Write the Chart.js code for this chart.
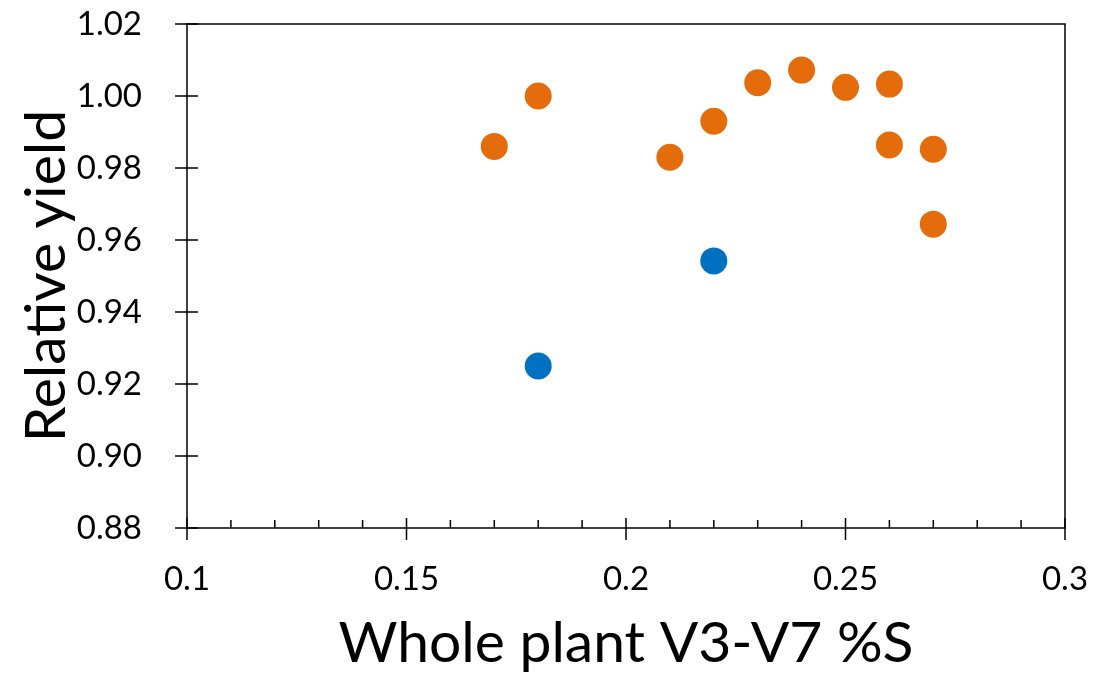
<!DOCTYPE html>
<html>
<head>
<meta charset="utf-8">
<script src="https://cdn.jsdelivr.net/npm/chart.js@4/dist/chart.umd.min.js"></script>
<style>
  html, body { margin: 0; padding: 0; background: #fff; }
  #wrap { width: 1094px; height: 678px; }
</style>
</head>
<body>
<div id="wrap"><canvas id="yieldChart"></canvas></div>
<script>
// data
const orangeX = [0.17, 0.18, 0.21, 0.22, 0.23, 0.24, 0.25, 0.26, 0.26, 0.27, 0.27];
const orangeY = [0.986, 1.000, 0.983, 0.993, 1.0037, 1.0072, 1.0024, 1.0033, 0.9864, 0.9852, 0.9644];
const blueX = [0.18, 0.22];
const blueY = [0.925, 0.9542];

const xTicks = [0.1, 0.15, 0.2, 0.25, 0.3];
const xMinorTicks = [0.11, 0.12, 0.13, 0.14, 0.16, 0.17, 0.18, 0.19, 0.21, 0.22, 0.23, 0.24, 0.26, 0.27, 0.28, 0.29];
const yTicks = [0.88, 0.90, 0.92, 0.94, 0.96, 0.98, 1.00, 1.02];

const xTitle = 'Whole plant V3-V7 %S';
const yTitle = 'Relative yield';

const FONT = "Lato, 'Open Sans', sans-serif";

function toPoints(xs, ys) {
  return xs.map((x, i) => ({ x: x, y: ys[i] }));
}

// axis lines, box and tick marks (major ticks cross, minor ticks inside)
const axisPlugin = {
  id: 'axisPlugin',
  afterDraw(chart) {
    const ctx = chart.ctx;
    const area = chart.chartArea;
    const xs = chart.scales.x, ys = chart.scales.y;
    ctx.save();
    ctx.strokeStyle = '#000';
    ctx.lineWidth = 1.5;
    ctx.beginPath();
    ctx.rect(area.left, area.top, area.right - area.left, area.bottom - area.top);
    ctx.stroke();
    ctx.beginPath();
    xTicks.forEach(v => {
      const px = xs.getPixelForValue(v);
      ctx.moveTo(px, area.bottom - 10);
      ctx.lineTo(px, area.bottom + 12);
    });
    xMinorTicks.forEach(v => {
      const px = xs.getPixelForValue(v);
      ctx.moveTo(px, area.bottom - 8);
      ctx.lineTo(px, area.bottom);
    });
    yTicks.forEach(v => {
      const py = ys.getPixelForValue(v);
      ctx.moveTo(area.left - 12, py);
      ctx.lineTo(area.left + 11, py);
    });
    ctx.stroke();
    ctx.restore();
  }
};

const ctx = document.getElementById('yieldChart').getContext('2d');
const myChart = new Chart(ctx, {
  type: 'scatter',
  data: {
    datasets: [
      {
        label: 'orange',
        data: toPoints(orangeX, orangeY),
        backgroundColor: '#E46C0A',
        borderWidth: 0,
        pointRadius: 13.5,
        pointHoverRadius: 13.5
      },
      {
        label: 'blue',
        data: toPoints(blueX, blueY),
        backgroundColor: '#0070C0',
        borderWidth: 0,
        pointRadius: 13.5,
        pointHoverRadius: 13.5
      }
    ]
  },
  options: {
    responsive: true,
    maintainAspectRatio: false,
    animation: false,
    layout: { padding: { top: 24, right: 29, left: 0, bottom: 0 } },
    plugins: {
      legend: { display: false },
      tooltip: { enabled: false }
    },
    scales: {
      x: {
        type: 'linear',
        min: 0.1,
        max: 0.3,
        afterBuildTicks: scale => { scale.ticks = xTicks.map(v => ({ value: v })); },
        afterFit: scale => {
          scale.height = 150;
          scale.paddingLeft = 0;
          scale.paddingRight = 0;
        },
        grid: { display: false },
        border: { display: false },
        ticks: {
          padding: 24,
          color: '#000',
          font: { family: FONT, size: 33 },
          maxRotation: 0,
          callback: v => String(+v.toFixed(2))
        },
        title: {
          display: true,
          text: xTitle,
          color: '#000',
          font: { family: FONT, size: 57 },
          padding: { top: 0, bottom: 0 }
        }
      },
      y: {
        type: 'linear',
        min: 0.88,
        max: 1.02,
        afterBuildTicks: scale => { scale.ticks = yTicks.map(v => ({ value: v })); },
        afterFit: scale => {
          scale.width = 187;
          scale.paddingTop = 0;
          scale.paddingBottom = 0;
        },
        grid: { display: false },
        border: { display: false },
        ticks: {
          padding: 37,
          color: '#000',
          font: { family: FONT, size: 33 },
          callback: v => v.toFixed(2)
        },
        title: {
          display: true,
          text: yTitle,
          color: '#000',
          font: { family: FONT, size: 57 },
          padding: { top: 12, bottom: 0 }
        }
      }
    }
  },
  plugins: [axisPlugin]
});
</script>
</body>
</html>
